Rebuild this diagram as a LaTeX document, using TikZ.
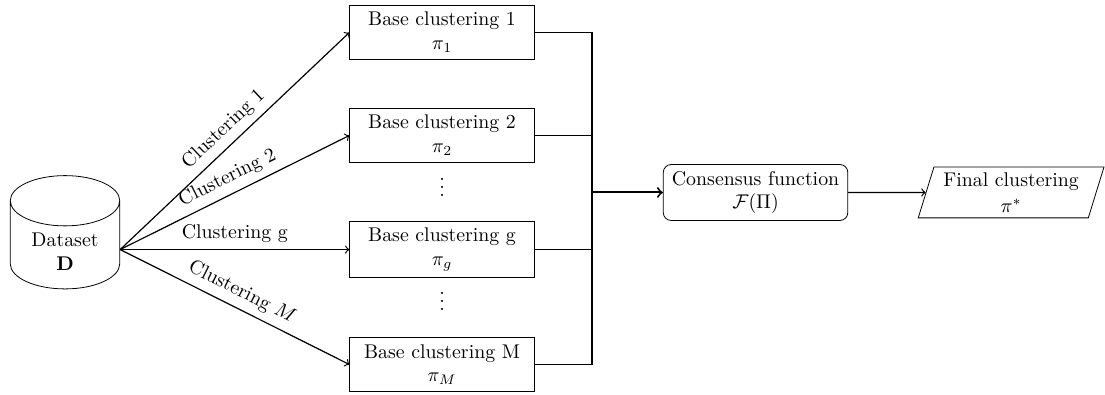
\documentclass[tikz,border=0pt]{standalone}
\usepackage{amsmath}
\usetikzlibrary{shapes.geometric}
\tikzset{
  basebox/.style={rectangle, draw, align=center, minimum width=3.27cm},
  consensusbox/.style={rectangle, rounded corners, draw, align=center, minimum width=3.27cm},
  finalbox/.style={trapezium, trapezium left angle=72, trapezium right angle=108, trapezium stretches=true, draw, align=center, minimum width=3.3cm, minimum height=0.9cm, inner sep=1pt},
  datasetbox/.style={cylinder, shape border rotate=90, shape aspect=0.75, draw, align=center, minimum width=1.94cm, minimum height=1.96cm, inner sep=0pt},
}
\begin{document}
\begin{tikzpicture}
  \useasboundingbox (0,0) rectangle (19.58,6.982);

  % Draw dataset and base clusterings
  \node[datasetbox] (dataset) at (1.152,2.640) {\raisebox{-3.5pt}[6.9pt][0pt]{Dataset}\\\raisebox{-3.5pt}[6.9pt][0pt]{$\mathbf{D}$}};
  \node[basebox] (base1) at (7.833,6.406) {Base clustering 1\\$\pi_1$};
  \node[basebox] (base2) at (7.833,4.581) {Base clustering 2\\$\pi_2$};
  \node[basebox] (baseg) at (7.833,2.560) {Base clustering g\\$\pi_g$};
  \node[basebox] (baseM) at (7.833,0.523) {Base clustering M\\$\pi_M$};
  \node (dots1) at (7.833,3.766) {$\vdots$};
  \node (dots2) at (7.833,1.746) {$\vdots$};

  % Draw consensus and final result
  \node[consensusbox] (consensus) at (13.388,3.571) {Consensus function\\$\mathcal{F}(\Pi)$};
  \node[finalbox] (final) at (17.916,3.571) {Final clustering\\[1pt]$\pi^*$};
  \coordinate (merge) at (10.491,3.571);
  \coordinate (datasetout) at (dataset.east |- baseg.west);

  % Draw clustering arrows
  \draw[->, semithick] (datasetout) -- (base1.west) node[midway, above, sloped] {Clustering 1};
  \draw[->, semithick] (datasetout) -- (base2.west) node[midway, above, sloped] {Clustering 2};
  \draw[->, semithick] (datasetout) -- (baseg.west) node[midway, above, sloped] {Clustering g};
  \draw[->, semithick] (datasetout) -- (baseM.west) node[midway, above, sloped] {Clustering $M$};

  % Draw merging lines
  \draw[semithick] (base1.east) -| (merge);
  \draw[semithick] (base2.east) -| (merge);
  \draw[semithick] (baseg.east) -| (merge);
  \draw[semithick] (baseM.east) -| (merge);
  \draw[->, line width=1pt] (merge) -- (consensus.west);
  \draw[->, semithick] (consensus.east) -- (final.west);
\end{tikzpicture}
\end{document}
